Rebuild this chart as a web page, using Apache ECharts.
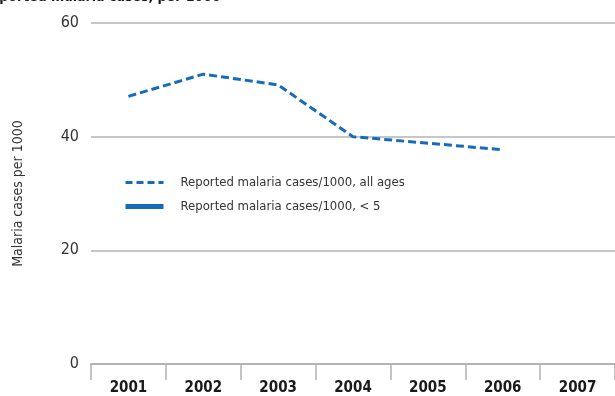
<!DOCTYPE html>
<html><head><meta charset="utf-8">
<script src="https://cdn.jsdelivr.net/npm/echarts@6/dist/echarts.min.js"></script>
<style>html,body{margin:0;padding:0;background:#fff}#c{width:615px;height:396px}</style>
</head><body><div id="c"></div>
<script>
const title = 'Reported malaria cases, per 1000';
const yName = 'Malaria cases per 1000';
const years = ['2001','2002','2003','2004','2005','2006','2007'];
const allAges = [47.1, 51.0, 49.1, 40.0, null, 37.7, null];
const under5 = [null, null, null, null, null, null, null];
const seriesNames = ['Reported malaria cases/1000, all ages', 'Reported malaria cases/1000, < 5'];
const yTicks = [0, 20, 40, 60];

const FONT = '"Liberation Sans Narrow", "DejaVu Sans Condensed", sans-serif';
const BLUE = '#166cb8';
const chart = echarts.init(document.getElementById('c'));
chart.setOption({
  animation: false,
  textStyle: { fontFamily: FONT },
  graphic: [{
    type: 'text', left: -19, top: -10,
    style: { text: title, font: 'bold 14px ' + FONT, fill: '#1a1a1a' }
  }],
  grid: { left: 91, right: -1, top: 23, bottom: 31 },
  legend: {
    orient: 'vertical', left: 123, top: 176, padding: 0, itemWidth: 38, itemHeight: 12, itemGap: 11,
    itemStyle: { opacity: 0 },
    textStyle: { fontSize: 13, color: '#333', fontFamily: FONT, padding: [0, 0, 0, 12] },
    data: [
      { name: seriesNames[0], lineStyle: { color: BLUE, width: 3, type: [7, 4] } },
      { name: seriesNames[1], lineStyle: { color: BLUE, width: 5, type: 'solid' } }
    ]
  },
  xAxis: {
    type: 'category', data: years, boundaryGap: true,
    axisLine: { lineStyle: { color: '#b3b3b3', width: 2 } },
    axisTick: { show: true, length: 16, lineStyle: { color: '#b3b3b3', width: 1.5 } },
    axisLabel: { fontSize: 15, fontWeight: 'bold', color: '#1a1a1a', margin: 17, fontFamily: FONT },
    splitLine: { show: false }
  },
  yAxis: {
    type: 'value', min: yTicks[0], max: yTicks[yTicks.length - 1], interval: 20,
    name: yName, nameLocation: 'middle', nameGap: 66, nameRotate: 90,
    nameTextStyle: { fontSize: 14, color: '#333', fontFamily: FONT },
    axisLine: { show: false }, axisTick: { show: false },
    axisLabel: { fontSize: 16, color: '#333', margin: 12, fontFamily: FONT },
    splitLine: { lineStyle: { color: '#b3b3b3', width: 1.5 } }
  },
  series: [
    { name: seriesNames[0], type: 'line', data: allAges, connectNulls: true, symbol: 'none',
      lineStyle: { color: BLUE, width: 3, type: [8, 4] }, itemStyle: { color: BLUE } },
    { name: seriesNames[1], type: 'line', data: under5, symbol: 'none',
      lineStyle: { color: BLUE, width: 5 }, itemStyle: { color: BLUE } }
  ]
});
</script></body></html>
